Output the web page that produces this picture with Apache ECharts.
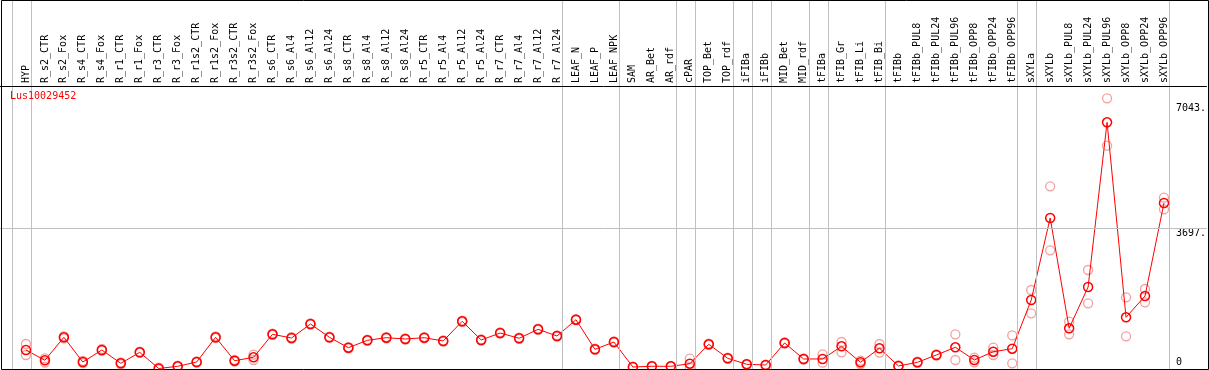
<!DOCTYPE html>
<html>
<head>
<meta charset="utf-8">
<title>Lus10029452</title>
<script src="https://cdn.jsdelivr.net/npm/echarts@6.0.0/dist/echarts.min.js"></script>
<style>
html,body{margin:0;padding:0;background:#fff;}
#chart{width:1209px;height:370px;}
</style>
</head>
<body>
<div id="chart"></div>
<script>
var geneName = 'Lus10029452';

var categories = ['HYP','R_s2_CTR','R_s2_Fox','R_s4_CTR','R_s4_Fox','R_r1_CTR','R_r1_Fox','R_r3_CTR','R_r3_Fox',
	'R_r1s2_CTR','R_r1s2_Fox','R_r3s2_CTR','R_r3s2_Fox','R_s6_CTR','R_s6_Al4','R_s6_Al12','R_s6_Al24',
	'R_s8_CTR','R_s8_Al4','R_s8_Al12','R_s8_Al24','R_r5_CTR','R_r5_Al4','R_r5_Al12','R_r5_Al24',
	'R_r7_CTR','R_r7_Al4','R_r7_Al12','R_r7_Al24','LEAF_N','LEAF_P','LEAF_NPK','SAM','AR_Bet','AR_rdf',
	'cPAR','TOP_Bet','TOP_rdf','iFIBa','iFIBb','MID_Bet','MID_rdf','tFIBa','tFIB_Gr','tFIB_Li','tFIB_Bi',
	'tFIBb','tFIBb_PUL8','tFIBb_PUL24','tFIBb_PUL96','tFIBb_OPP8','tFIBb_OPP24','tFIBb_OPP96',
	'sXYLa','sXYLb','sXYLb_PUL8','sXYLb_PUL24','sXYLb_PUL96','sXYLb_OPP8','sXYLb_OPP24','sXYLb_OPP96'];

// mean of the replicates
var meanValues = [454,179,793,133,454,99,392,-40,19,
	133,793,168,259,873,774,1148,793,
	515,713,782,747,782,694,1220,721,
	907,766,1006,827,1262,472,667,0,19,19,
	88,606,232,72,53,641,214,214,552,125,499,
	27,125,320,526,187,408,488,
	1788,3977,1033,2135,6531,1327,1895,4377];

// the two replicates
var rep1Values = [614,230,820,160,480,120,410,-20,35,
	150,815,190,331,890,795,1165,810,
	530,730,800,765,800,710,1240,740,
	925,785,1025,845,1280,490,685,10,30,30,
	221,625,250,85,65,660,230,339,667,168,614,
	40,140,335,873,248,515,846,
	2055,4823,1209,2589,7172,1860,2082,4519];
var rep2Values = [320,120,765,105,430,78,375,-60,5,
	115,770,145,187,855,755,1130,775,
	500,695,765,730,765,680,1200,705,
	890,750,990,810,1245,455,650,-10,8,8,
	-20,590,215,60,40,625,200,115,392,80,384,
	15,110,305,187,125,320,99,
	1433,3115,873,1700,5907,819,1727,4209];

// group separators sit just after these samples
var groupEnds = [-1,0,28,31,34,35,37,38,39,41,42,45,52,53,60];
var yTicks = [0,3697,7043];

var mono = 'DejaVu Sans Mono';

function pairs(vals){
	var out = [];
	for(var i=0;i<vals.length;i++) out.push([i, vals[i]]);
	return out;
}

var repData = pairs(rep1Values).concat(pairs(rep2Values));
var sepLines = [];
for(var i=0;i<groupEnds.length;i++) sepLines.push({xAxis: groupEnds[i] + 0.29});
sepLines.push({yAxis: 3697});

var myChart = echarts.init(document.getElementById('chart'));
var option = {
	backgroundColor: '#fff',
	animation: false,
	title: {
		text: geneName,
		left: 10, top: 91, padding: 0,
		textStyle: {color: '#ff0000', fontFamily: mono, fontSize: 10, fontWeight: 'normal'}
	},
	grid: {left: 0, right: 0, top: 0, bottom: 0},
	xAxis: {
		type: 'value',
		position: 'top',
		min: -1.3684, max: 62.263,
		splitLine: {show: false},
		axisLine: {show: false},
		axisTick: {show: false},
		axisLabel: {
			customValues: categories.map(function(c, i){ return i; }),
			formatter: function(v){ return categories[Math.round(v)]; },
			rotate: 90,
			inside: true,
			margin: 83,
			align: 'left',
			verticalAlign: 'middle',
			color: '#000', fontFamily: mono, fontSize: 10
		}
	},
	yAxis: {
		type: 'value',
		position: 'right',
		min: -80, max: 9795,
		splitLine: {show: false},
		axisLine: {show: false},
		axisTick: {show: false},
		axisLabel: {
			customValues: yTicks,
			inside: true,
			margin: 31,
			align: 'left',
			verticalAlign: 'middle',
			formatter: function(v){ return v === 0 ? '{z|0}' : '{t|' + v + '.}'; },
			rich: {
				t: {padding: [10, 0, 0, 0], color: '#000', fontFamily: mono, fontSize: 10},
				z: {padding: [0, 0, 10, 0], color: '#000', fontFamily: mono, fontSize: 10}
			}
		}
	},
	series: [
		{
			name: 'replicates',
			type: 'scatter',
			data: repData,
			symbol: 'circle',
			symbolSize: 9,
			z: 2,
			itemStyle: {color: 'transparent', borderColor: 'rgba(232,80,80,0.68)', borderWidth: 1.3},
			markLine: {
				silent: true,
				symbol: 'none',
				animation: false,
				label: {show: false},
				lineStyle: {color: '#c0c0c0', width: 1, type: 'solid'},
				data: sepLines.concat([{yAxis: 7487, lineStyle: {color: '#000', width: 1, type: 'solid'}}])
			}
		},
		{
			name: geneName,
			type: 'line',
			data: pairs(meanValues),
			symbol: 'circle',
			symbolSize: 9,
			showAllSymbol: true,
			clip: false,
			z: 3,
			lineStyle: {color: '#ff0000', width: 1},
			itemStyle: {color: 'transparent', borderColor: '#ff0000', borderWidth: 1.5}
		}
	],
	graphic: [{
		type: 'rect',
		silent: true,
		shape: {x: 1.5, y: 0.5, width: 1207, height: 369},
		style: {fill: 'none', stroke: '#000', lineWidth: 1},
		z: 10
	}]
};
myChart.setOption(option);
</script>
</body>
</html>
